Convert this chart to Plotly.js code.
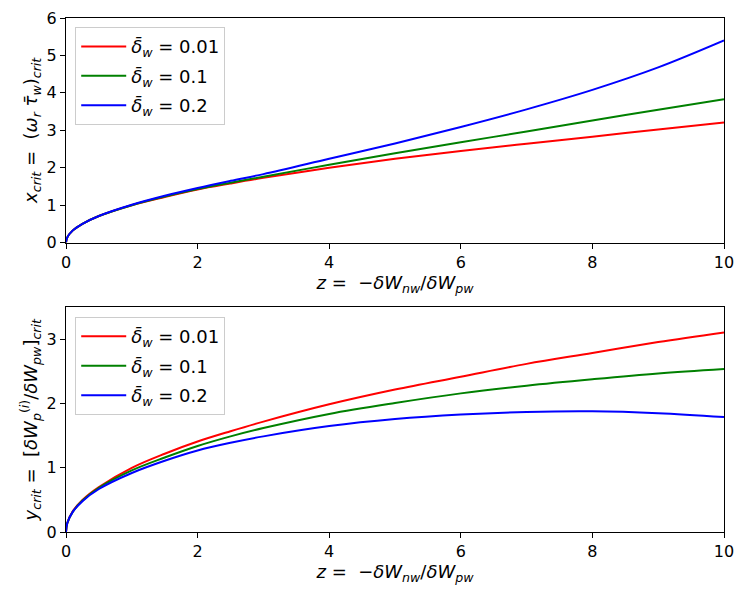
<!DOCTYPE html>
<html>
<head>
<meta charset="utf-8">
<script src="https://cdn.plot.ly/plotly-3.0.1.min.js"></script>
<style>
	html, body {margin:0; padding:0; background:#fff;}
	#plot {width:747px; height:598px;}
</style>
</head>
<body>
<div id="plot"></div>
<script>
// z values shared by both panels
var zValues = [0, 0.02, 0.1, 0.25, 0.5, 1, 1.5, 2, 2.5, 3, 4, 5, 6, 7, 8, 9, 10];

// top panel: x_crit for each delta_w
var xCrit001 = [0, 0.14, 0.32, 0.50, 0.71, 1.00, 1.22, 1.42, 1.58, 1.73, 2.00, 2.24, 2.45, 2.64, 2.83, 3.02, 3.21];
var xCrit01  = [0, 0.14, 0.32, 0.50, 0.71, 1.00, 1.23, 1.43, 1.60, 1.76, 2.08, 2.39, 2.68, 2.97, 3.26, 3.55, 3.83];
var xCrit02  = [0, 0.14, 0.32, 0.50, 0.71, 1.01, 1.25, 1.46, 1.65, 1.83, 2.24, 2.65, 3.09, 3.56, 4.08, 4.68, 5.40];

// bottom panel: y_crit for each delta_w
var yCrit001 = [0, 0.14, 0.32, 0.50, 0.70, 1.00, 1.22, 1.41, 1.57, 1.72, 1.99, 2.22, 2.42, 2.62, 2.79, 2.96, 3.11];
var yCrit01  = [0, 0.14, 0.31, 0.49, 0.69, 0.96, 1.16, 1.34, 1.49, 1.62, 1.84, 2.01, 2.16, 2.28, 2.38, 2.47, 2.54];
var yCrit02  = [0, 0.14, 0.31, 0.48, 0.67, 0.92, 1.11, 1.27, 1.39, 1.49, 1.65, 1.76, 1.83, 1.87, 1.88, 1.85, 1.79];

var seriesLabels = ['0.01', '0.1', '0.2'];
var seriesColors = ['#ff0000', '#008000', '#0000ff'];

var FONT = 'DejaVu Sans, sans-serif';
var xTitle = '<i>z</i> =  −<i>δW</i><sub><i>nw</i></sub>/<i>δW</i><sub><i>pw</i></sub>';

function makeTrace(y, idx, panel){
	return {
		x: zValues,
		y: y,
		type: 'scatter',
		mode: 'lines',
		name: '<i>δ̄</i><sub><i>w</i></sub> = ' + seriesLabels[idx],
		legendgroup: 'g' + panel + idx,
		line: {color: seriesColors[idx], width: 2, shape: 'spline', smoothing: 1},
		xaxis: panel == 1 ? 'x' : 'x2',
		yaxis: panel == 1 ? 'y' : 'y2',
		legend: panel == 1 ? 'legend' : 'legend2'
	};
}

var data = [
	makeTrace(xCrit001, 0, 1), makeTrace(xCrit01, 1, 1), makeTrace(xCrit02, 2, 1),
	makeTrace(yCrit001, 0, 2), makeTrace(yCrit01, 1, 2), makeTrace(yCrit02, 2, 2)
];

var axisStyle = {
	showgrid: false,
	zeroline: false,
	showline: true,
	mirror: true,
	linecolor: '#000',
	linewidth: 1,
	ticks: 'outside',
	ticklen: 5,
	tickcolor: '#000',
	tickfont: {family: FONT, size: 16, color: '#000'}
};

function axis(extra){
	var a = {};
	for (var k in axisStyle){ a[k] = axisStyle[k]; }
	for (var k in extra){ a[k] = extra[k]; }
	return a;
}

var legendStyle = {
	x: 0.014, xanchor: 'left', yanchor: 'top',
	bgcolor: 'rgba(255,255,255,0.8)',
	bordercolor: '#cccccc',
	borderwidth: 1,
	tracegroupgap: 3,
	itemwidth: 45,
	font: {family: FONT, size: 18, color: '#000'}
};

var titleFont = {family: FONT, size: 18, color: '#000'};

var layout = {
	width: 747,
	height: 598,
	margin: {l: 66, r: 23, t: 18, b: 66},
	paper_bgcolor: '#fff',
	plot_bgcolor: '#fff',
	font: {family: FONT, size: 16, color: '#000'},
	showlegend: true,
	xaxis: axis({domain: [0, 1], anchor: 'y', range: [0, 10], dtick: 2,
		title: {text: xTitle, font: titleFont, standoff: 2}}),
	yaxis: axis({domain: [0.563, 1], anchor: 'x', range: [0, 6], dtick: 1,
		title: {text: '<i>x</i><sub><i>crit</i></sub> =  (<i>ω</i><sub><i>r</i></sub> <i>τ̄</i><sub><i>w</i></sub>)<sub><i>crit</i></sub>', font: titleFont, standoff: 4}}),
	xaxis2: axis({domain: [0, 1], anchor: 'y2', range: [0, 10], dtick: 2,
		title: {text: xTitle, font: titleFont, standoff: 2}}),
	yaxis2: axis({domain: [0, 0.437], anchor: 'x2', range: [0, 3.5], dtick: 1,
		title: {text: '<i>y</i><sub><i>crit</i></sub> =  [<i>δW</i><sub><i>p</i></sub><sup>(<i>i</i>)</sup>/<i>δW</i><sub><i>pw</i></sub>]<sub><i>crit</i></sub>', font: titleFont, standoff: 4}}),
	legend: Object.assign({y: 0.982}, legendStyle),
	legend2: Object.assign({y: 0.418}, legendStyle)
};

Plotly.newPlot('plot', data, layout, {displayModeBar: false, staticPlot: true});
</script>
</body>
</html>
